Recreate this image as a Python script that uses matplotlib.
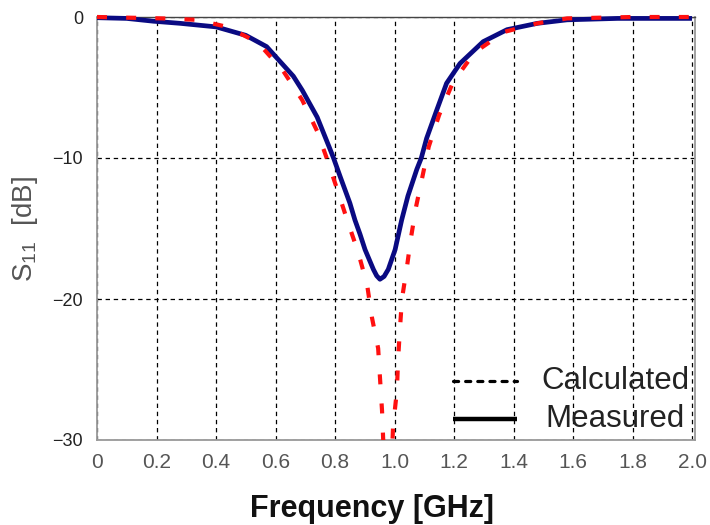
import matplotlib
matplotlib.use("Agg")
import matplotlib.pyplot as plt
from matplotlib.lines import Line2D
from matplotlib.patches import Rectangle

plt.rcParams['font.family'] = ['Liberation Sans', 'DejaVu Sans']
plt.rcParams['mathtext.fontset'] = 'custom'
plt.rcParams['mathtext.rm'] = 'Liberation Sans'
plt.rcParams['mathtext.it'] = 'Liberation Sans'

# Measured S11 (GHz, dB)
meas_f = [0.0, 0.10, 0.19, 0.28, 0.40, 0.50, 0.57, 0.60, 0.66, 0.69, 0.74, 0.78,
          0.795, 0.817, 0.85, 0.867, 0.884, 0.901, 0.929, 0.940, 0.951, 0.965,
          0.979, 1.002, 1.024, 1.045, 1.075, 1.09, 1.108, 1.142, 1.175, 1.22,
          1.298, 1.378, 1.48, 1.58, 1.75, 2.0]
meas_db = [-0.05, -0.1, -0.3, -0.45, -0.7, -1.3, -2.1, -2.8, -4.2, -5.2, -7.1, -9.2,
           -10.0, -11.3, -13.2, -14.4, -15.4, -16.5, -17.9, -18.35, -18.6, -18.4,
           -17.9, -16.5, -14.4, -12.7, -10.8, -10.0, -8.6, -6.6, -4.7, -3.3,
           -1.75, -0.9, -0.45, -0.2, -0.1, -0.1]

# Calculated S11 (GHz, dB)
calc_f = [0.0, 0.22, 0.336, 0.437, 0.54, 0.625, 0.69, 0.74, 0.777, 0.81, 0.844,
          0.878, 0.908, 0.924, 0.945, 0.958, 0.962, 0.978, 0.995, 1.008, 1.012,
          1.018, 1.025, 1.042, 1.055, 1.072, 1.094, 1.115, 1.15, 1.197, 1.27,
          1.37, 1.48, 1.58, 1.8, 2.0]
calc_db = [0.0, -0.1, -0.2, -0.7, -1.8, -3.8, -5.9, -8.1, -10.3, -12.4, -14.6,
           -16.7, -19.0, -21.3, -23.5, -27.9, -30.0, -38.0, -29.1, -26.5, -24.3,
           -22.2, -20.0, -17.7, -15.7, -13.5, -11.3, -9.2, -6.95, -4.6, -2.5,
           -1.05, -0.45, -0.1, 0.0, 0.0]

xticks = [0, 0.2, 0.4, 0.6, 0.8, 1.0, 1.2, 1.4, 1.6, 1.8, 2.0]
xtick_labels = ['0', '0.2', '0.4', '0.6', '0.8', '1.0', '1.2', '1.4', '1.6', '1.8', '2.0']
yticks = [0, -10, -20, -30]
ytick_labels = ['0', '\u221210', '\u221220', '\u221230']
legend_labels = ['Calculated', 'Measured']

W, H = 710, 525
fig = plt.figure(figsize=(W/100, H/100), dpi=100)
ax = fig.add_axes([97/W, 1-440/H, 598/W, 423/H])

ax.set_xlim(0, 2.01)
ax.set_ylim(-30, 0)

clip = Rectangle((0, -30), 2.01, 31, transform=ax.transData)

l1, = ax.plot(meas_f, meas_db, color='#0a0a82', lw=3.4, solid_capstyle='butt',
              solid_joinstyle='round', zorder=3)
l2, = ax.plot(calc_f, calc_db, color='#ff1010', lw=3.0, linestyle=(0, (2.4, 4.6)), zorder=4)
for ln in (l1, l2):
    ln.set_clip_path(clip)

ax.set_xticks(xticks)
ax.set_xticklabels(xtick_labels)
ax.set_yticks(yticks)
ax.set_yticklabels(ytick_labels)
ax.tick_params(axis='x', length=0, pad=9.5, labelsize=15, labelcolor='#555555')
ax.tick_params(axis='y', length=0, pad=10, labelsize=13, labelcolor='#222222')

ax.grid(True, color='black', lw=0.9, linestyle=(0, (3.5, 3)))
ax.set_axisbelow(True)

for s in ['left', 'right', 'bottom']:
    ax.spines[s].set_color('#999999')
    ax.spines[s].set_linewidth(1.3)
ax.spines['top'].set_color('#444444')
ax.spines['top'].set_linewidth(1.0)

fig.text(25/W, 1-229/H, r'S$_{\mathrm{11}}$  [dB]', rotation=90, ha='center', va='center',
         fontsize=20, color='#555555')
fig.text(372/W, 1-517/H, 'Frequency [GHz]', ha='center', va='baseline',
         fontsize=22, fontweight='bold', color='#111111')

# legend drawn manually (centered labels as in the reference)
def ax_xy(px, py):
    return (px - 97) / 598, (440 - py) / 423

styles = [dict(color='black', lw=2.3, linestyle=(0, (1.6, 2.2)), dash_capstyle='round'),
          dict(color='black', lw=3.2, solid_capstyle='butt')]
rows_y = [381, 419]
for lab, st, py in zip(legend_labels, styles, rows_y):
    x0, y0 = ax_xy(453, py)
    x1, _ = ax_xy(517, py)
    ax.add_line(Line2D([x0, x1], [y0, y0], transform=ax.transAxes, clip_on=False, zorder=5, **st))
    tx, ty = ax_xy(615, py)
    ax.text(tx, ty, lab, transform=ax.transAxes, ha='center', va='center',
            fontsize=22.5, color='#222222', zorder=5)

fig.savefig('out.png', dpi=100)
